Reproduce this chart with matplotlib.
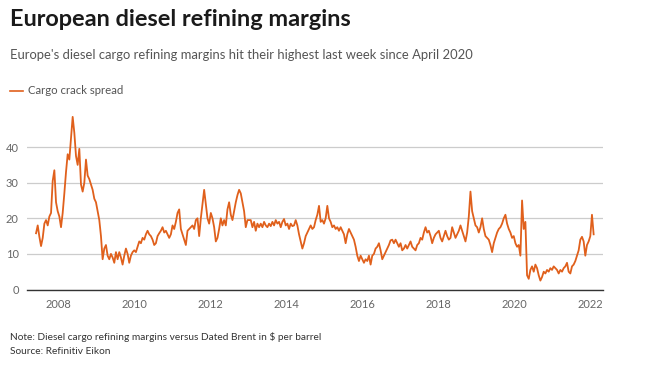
import matplotlib
matplotlib.use("Agg")
import matplotlib.pyplot as plt
import pandas as pd

start_date = "2007-05-29"
sample_step = "16D"

crack_2007_2011 = [
    15.8, 18.0, 14.8, 12.2, 14.5, 18.5, 19.5, 18.0, 20.5, 21.5,
    30.5, 33.5, 24.5, 22.0, 20.5, 17.5, 21.5, 27.0, 33.0, 38.0,
    36.5, 42.5, 48.5, 44.0, 37.5, 35.0, 39.5, 29.5, 27.5, 30.0,
    36.5, 32.0, 31.0, 29.5, 28.0, 25.5, 24.5, 22.0, 19.5, 15.0,
    8.5, 11.5, 12.5, 9.5, 8.5, 10.0, 9.0, 7.5, 10.5, 8.5,
    10.5, 9.0, 7.0, 9.5, 11.5, 10.0, 7.5, 9.5, 10.5, 11.0,
    10.5, 12.0, 13.5, 13.0, 14.5, 14.0, 15.5, 16.5, 15.5, 15.0,
    14.0, 12.5, 13.0, 15.0, 15.8, 16.5, 17.5, 16.0, 16.5, 15.5,
    14.5, 15.5, 18.0, 17.0, 19.0, 21.5, 22.5, 17.0, 15.5, 14.0,
    12.5, 16.5, 17.0, 17.5, 18.0, 17.0, 19.5, 20.0, 15.0,
]
crack_2011_2016 = [
    20.0, 24.0, 28.0, 24.0, 20.0, 18.5, 21.5, 20.0, 17.5, 13.5,
    14.5, 17.0, 20.0, 18.0, 19.5, 18.0, 22.5, 24.5, 21.0, 19.5,
    22.0, 24.5, 26.5, 28.0, 27.0, 24.5, 22.0, 17.5, 19.5, 19.5,
    19.5, 17.5, 19.0, 16.5, 18.5, 17.5, 18.5, 17.5, 19.0, 18.0,
    17.5, 18.5, 17.8, 19.0, 18.0, 19.5, 18.5, 19.0, 17.5, 19.0,
    19.8, 18.0, 18.5, 17.0, 18.5, 17.8, 18.0, 19.5, 18.0, 15.5,
    13.5, 11.5, 13.0, 15.0, 16.0, 17.0, 18.0, 17.0, 17.5, 19.5,
    21.0, 23.5, 19.0, 19.5, 18.5, 20.0, 23.5, 20.0, 19.0, 17.5,
    18.0, 17.0, 17.5, 16.5, 17.5, 16.5, 15.5, 13.0, 15.5, 17.0,
    16.0, 15.0, 14.0, 12.0, 9.5, 8.0, 9.5, 8.5, 7.5, 8.5,
    8.0, 9.5, 7.0, 9.5, 10.0, 11.5, 12.0, 13.0, 11.0, 8.5,
    9.5, 10.5, 11.5, 12.5, 13.8, 14.0, 13.0, 14.0, 13.0, 12.0,
]
crack_2016_2022 = [
    13.0, 11.0, 11.5, 12.5, 11.5, 12.5, 13.5, 12.0, 11.5, 11.0,
    12.5, 13.0, 14.5, 14.0, 16.0, 17.5, 16.0, 16.5, 15.0, 13.0,
    14.5, 15.5, 16.0, 16.5, 14.5, 13.5, 15.0, 16.5, 15.0, 14.0,
    14.5, 17.5, 16.0, 14.5, 15.5, 16.5, 18.0, 16.5, 15.0, 13.5,
    16.0, 20.5, 27.5, 22.0, 20.0, 18.0, 17.5, 16.0, 17.5, 20.0,
    17.0, 15.0, 14.5, 14.0, 12.5, 10.5, 13.0, 14.5, 16.0, 17.0,
    17.5, 18.5, 20.0, 21.0, 18.5, 17.0, 16.0, 14.5, 15.0, 13.0,
    12.0, 12.5, 9.5, 25.0, 17.0, 19.0, 4.0, 3.0, 5.5, 6.5,
    5.0, 7.0, 6.0, 4.0, 2.5, 3.5, 5.0, 4.5, 5.5, 5.0,
    6.0, 5.5, 6.5, 6.0, 5.5, 4.5, 5.5, 5.0, 6.0, 6.5,
    7.5, 5.0, 4.5, 6.5, 7.0, 8.0, 9.5, 11.0, 14.0, 14.8,
    13.5, 9.5, 12.5, 13.5, 15.0, 21.0, 15.5,
]

series_name = "Cargo crack spread"
y_ticks = [0, 10, 20, 30, 40]
x_tick_years = [2008, 2010, 2012, 2014, 2016, 2018, 2020, 2022]

title = "European diesel refining margins"
subtitle = "Europe's diesel cargo refining margins hit their highest last week since April 2020"
note = "Note: Diesel cargo refining margins versus Dated Brent in $ per barrel"
source = "Source: Refinitiv Eikon"

values = crack_2007_2011 + crack_2011_2016 + crack_2016_2022
dates = pd.date_range(start_date, periods=len(values), freq=sample_step)

# ---- figure ----
W, H = 655, 366
FONT = "Lato"
LINE_COLOR = "#e0601c"
fig = plt.figure(figsize=(W / 100, H / 100), dpi=100)
fig.patch.set_facecolor("white")

ax_left, ax_right = 27 / W, 603 / W
ax_bottom = 1 - 289.5 / H
ax_top = 1 - 111.5 / H
ax = fig.add_axes([ax_left, ax_bottom, ax_right - ax_left, ax_top - ax_bottom])
ax.plot(dates, values, color=LINE_COLOR, lw=1.3, solid_joinstyle="round")

ax.set_ylim(0, 50)
ax.set_xlim(pd.Timestamp("2007-03-03"), pd.Timestamp("2022-04-30"))
ax.set_yticks(y_ticks)
ax.set_xticks([pd.Timestamp(f"{y}-01-01") for y in x_tick_years])
ax.set_xticklabels([str(y) for y in x_tick_years])
ax.set_yticklabels([str(v) for v in y_ticks])

for s in ["top", "right", "left"]:
    ax.spines[s].set_visible(False)
ax.spines["bottom"].set_color("#333333")
ax.spines["bottom"].set_linewidth(1.0)
ax.grid(axis="y", color="#cccccc", lw=0.9)
ax.set_axisbelow(True)
ax.tick_params(axis="both", length=0, labelsize=8, labelcolor="#666666")
ax.tick_params(axis="x", pad=7)
ax.tick_params(axis="y", pad=6)
for lab in ax.get_xticklabels() + ax.get_yticklabels():
    lab.set_fontfamily(FONT)

fig.canvas.draw()
renderer = fig.canvas.get_renderer()


def fit_text(x_px, y_px, s, target_w, **kw):
    t = fig.text(x_px / W, 1 - y_px / H, s, fontsize=10, family=FONT,
                 va="center", ha="left", **kw)
    w = t.get_window_extent(renderer).width
    t.set_fontsize(10 * target_w / w)
    return t


fit_text(10, 19, title, 341, weight="bold", color="#1a1a1a")
fit_text(10, 55, subtitle, 464, color="#555555")
fig.add_artist(plt.Line2D([10 / W, 23 / W], [1 - 91 / H] * 2, color=LINE_COLOR, lw=1.2))
fit_text(28.5, 91, series_name, 95.5, color="#555555")
fit_text(10.5, 337, note, 308.5, color="#333333")
fit_text(10.5, 352, source, 100.5, color="#333333")

fig.savefig("out.png", dpi=100, facecolor="white")
